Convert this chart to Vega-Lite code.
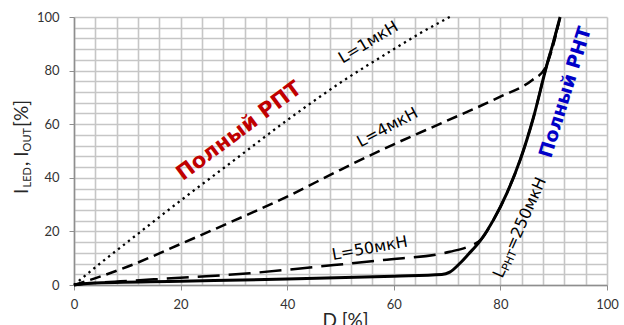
{
  "$schema": "https://vega.github.io/schema/vega-lite/v6.json",
  "width": 533,
  "height": 268,
  "autosize": {"type": "none"},
  "padding": {"left": 74, "top": 17, "right": 17, "bottom": 40},
  "background": "white",
  "config": {"view": {"stroke": null}, "font": "Lato"},
  "datasets": {
    "curves": [
      {"series": "L1", "x": 0, "y": 0}, {"series": "L1", "x": 5, "y": 8.2}, {"series": "L1", "x": 10, "y": 16}, {"series": "L1", "x": 20, "y": 31.5}, {"series": "L1", "x": 30, "y": 46.5}, {"series": "L1", "x": 40, "y": 61.5}, {"series": "L1", "x": 50, "y": 75.5}, {"series": "L1", "x": 60, "y": 88}, {"series": "L1", "x": 65, "y": 94}, {"series": "L1", "x": 70.5, "y": 100},
      {"series": "L4", "x": 0, "y": 0}, {"series": "L4", "x": 5, "y": 3.2}, {"series": "L4", "x": 10, "y": 6.8}, {"series": "L4", "x": 20, "y": 15.3}, {"series": "L4", "x": 30, "y": 24}, {"series": "L4", "x": 40, "y": 33}, {"series": "L4", "x": 50, "y": 43}, {"series": "L4", "x": 60, "y": 52.5}, {"series": "L4", "x": 70, "y": 61.3}, {"series": "L4", "x": 80, "y": 70.3}, {"series": "L4", "x": 86, "y": 76.5}, {"series": "L4", "x": 88.4, "y": 80.9}, {"series": "L4", "x": 89.7, "y": 88}, {"series": "L4", "x": 91.2, "y": 100},
      {"series": "L50", "x": 0, "y": 0}, {"series": "L50", "x": 3, "y": 0.6}, {"series": "L50", "x": 15, "y": 2.1}, {"series": "L50", "x": 33, "y": 4.4}, {"series": "L50", "x": 45.5, "y": 6.8}, {"series": "L50", "x": 58, "y": 9.3}, {"series": "L50", "x": 70.5, "y": 12.4}, {"series": "L50", "x": 74.3, "y": 14.6}, {"series": "L50", "x": 76.4, "y": 17}, {"series": "L50", "x": 78.7, "y": 24.3}, {"series": "L50", "x": 81.2, "y": 34.2}, {"series": "L50", "x": 83.7, "y": 46.6}, {"series": "L50", "x": 86.2, "y": 62.5}, {"series": "L50", "x": 88.7, "y": 82}, {"series": "L50", "x": 90, "y": 91}, {"series": "L50", "x": 91.2, "y": 100},
      {"series": "L250", "x": 0, "y": 0}, {"series": "L250", "x": 3, "y": 0.7}, {"series": "L250", "x": 20, "y": 1.4}, {"series": "L250", "x": 40, "y": 2.2}, {"series": "L250", "x": 60, "y": 3.3}, {"series": "L250", "x": 69, "y": 3.9}, {"series": "L250", "x": 70.5, "y": 4.8}, {"series": "L250", "x": 72.4, "y": 8.1}, {"series": "L250", "x": 74, "y": 11.5}, {"series": "L250", "x": 76.2, "y": 16.5}, {"series": "L250", "x": 78.7, "y": 24.3}, {"series": "L250", "x": 81.2, "y": 34.2}, {"series": "L250", "x": 83.7, "y": 46.6}, {"series": "L250", "x": 86.2, "y": 62.5}, {"series": "L250", "x": 88.7, "y": 82}, {"series": "L250", "x": 90, "y": 91}, {"series": "L250", "x": 91.2, "y": 100}
    ],
    "notes": [
      {"id": "rpt", "x": 31, "y": 57.3, "text": "Полный РПТ"},
      {"id": "rnt", "x": 92.2, "y": 71.9, "text": "Полный РНТ"},
      {"id": "l1", "x": 55.2, "y": 90.5, "text": "L=1мкН"},
      {"id": "l4", "x": 58.8, "y": 58.8, "text": "L=4мкН"},
      {"id": "l50", "x": 55.5, "y": 13.7, "text": "L=50мкН"},
      {"id": "lp1", "x": 79.5, "y": 3, "text": "L"},
      {"id": "lp2", "x": 79.5, "y": 3, "text": "РНТ"},
      {"id": "lp3", "x": 79.5, "y": 3, "text": "=250мкН"},
      {"id": "yt1", "x": -8.6, "y": 34, "text": "I"},
      {"id": "yt2", "x": -8.6, "y": 34, "text": "LED"},
      {"id": "yt3", "x": -8.6, "y": 34, "text": ", I"},
      {"id": "yt4", "x": -8.6, "y": 34, "text": "OUT"},
      {"id": "yt5", "x": -8.6, "y": 34, "text": "[%]"}
    ]
  },
  "encoding": {
    "x": {
      "field": "x", "type": "quantitative",
      "scale": {"domain": [0, 100], "nice": false},
      "axis": {
        "values": [0, 4, 8, 12, 16, 20, 24, 28, 32, 36, 40, 44, 48, 52, 56, 60, 64, 68, 72, 76, 80, 84, 88, 92, 96, 100],
        "labelExpr": "datum.value % 20 === 0 ? datum.label : ''",
        "labelOverlap": false, "labelBound": false, "labelFlush": false,
        "title": "D [%]", "titleX": 271,
        "grid": true, "gridColor": "#c6c6c6", "gridWidth": 1.6,
        "domainColor": "#8e8e8e", "domainWidth": 1.5,
        "tickColor": "#8e8e8e", "tickSize": 5, "tickWidth": 1,
        "tickOpacity": {"condition": {"test": "datum.value % 20 === 0", "value": 1}, "value": 0},
        "labelFont": "Lato", "labelFontSize": 13, "labelColor": "#333333", "labelPadding": 8,
        "titleFont": "Lato", "titleFontSize": 19, "titleFontWeight": "normal", "titleColor": "#262626", "titlePadding": 0
      }
    },
    "y": {
      "field": "y", "type": "quantitative",
      "scale": {"domain": [0, 100], "nice": false},
      "axis": {
        "values": [0, 4, 8, 12, 16, 20, 24, 28, 32, 36, 40, 44, 48, 52, 56, 60, 64, 68, 72, 76, 80, 84, 88, 92, 96, 100],
        "labelExpr": "datum.value % 20 === 0 ? datum.label : ''",
        "labelOverlap": false, "labelBound": false, "labelFlush": false,
        "title": null,
        "grid": true, "gridColor": "#c6c6c6", "gridWidth": 1.6,
        "domainColor": "#8e8e8e", "domainWidth": 1.5,
        "tickColor": "#8e8e8e", "tickSize": 5, "tickWidth": 1,
        "tickOpacity": {"condition": {"test": "datum.value % 20 === 0", "value": 1}, "value": 0},
        "labelFont": "Lato", "labelFontSize": 13, "labelColor": "#333333", "labelPadding": 10
      }
    }
  },
  "layer": [
    {"data": {"name": "curves"}, "transform": [{"filter": "datum.series === 'L1'"}],
     "mark": {"type": "line", "color": "black", "strokeWidth": 2.3, "strokeDash": [2.3, 4], "interpolate": "monotone"}},
    {"data": {"name": "curves"}, "transform": [{"filter": "datum.series === 'L4'"}],
     "mark": {"type": "line", "color": "black", "strokeWidth": 2.5, "strokeDash": [11, 6], "interpolate": "monotone"}},
    {"data": {"name": "curves"}, "transform": [{"filter": "datum.series === 'L50'"}],
     "mark": {"type": "line", "color": "black", "strokeWidth": 2.5, "strokeDash": [22, 9], "interpolate": "monotone"}},
    {"data": {"name": "curves"}, "transform": [{"filter": "datum.series === 'L250'"}],
     "mark": {"type": "line", "color": "black", "strokeWidth": 3, "interpolate": "monotone"}},
    {"data": {"name": "notes"}, "transform": [{"filter": "datum.id === 'rpt'"}],
     "mark": {"type": "text", "font": "DejaVu Sans", "fontWeight": "bold", "fontSize": 21, "color": "#c00000", "angle": 323.2, "align": "center", "baseline": "middle"},
     "encoding": {"text": {"field": "text"}}},
    {"data": {"name": "notes"}, "transform": [{"filter": "datum.id === 'rnt'"}],
     "mark": {"type": "text", "font": "DejaVu Sans", "fontWeight": "bold", "fontSize": 19, "color": "#0000c8", "angle": 287.2, "align": "center", "baseline": "middle"},
     "encoding": {"text": {"field": "text"}}},
    {"data": {"name": "notes"}, "transform": [{"filter": "datum.id === 'l1'"}],
     "mark": {"type": "text", "font": "DejaVu Sans", "fontSize": 16, "color": "black", "angle": 329, "align": "center", "baseline": "middle"},
     "encoding": {"text": {"field": "text"}}},
    {"data": {"name": "notes"}, "transform": [{"filter": "datum.id === 'l4'"}],
     "mark": {"type": "text", "font": "DejaVu Sans", "fontSize": 16, "color": "black", "angle": 332, "align": "center", "baseline": "middle"},
     "encoding": {"text": {"field": "text"}}},
    {"data": {"name": "notes"}, "transform": [{"filter": "datum.id === 'l50'"}],
     "mark": {"type": "text", "font": "DejaVu Sans", "fontSize": 16, "color": "black", "angle": 349.8, "align": "center", "baseline": "middle"},
     "encoding": {"text": {"field": "text"}}},
    {"data": {"name": "notes"}, "transform": [{"filter": "datum.id === 'lp1'"}],
     "mark": {"type": "text", "font": "DejaVu Sans", "fontSize": 16, "color": "black", "angle": 294, "align": "left", "baseline": "middle"},
     "encoding": {"text": {"field": "text"}}},
    {"data": {"name": "notes"}, "transform": [{"filter": "datum.id === 'lp2'"}],
     "mark": {"type": "text", "font": "DejaVu Sans", "fontSize": 11, "color": "black", "angle": 294, "align": "left", "baseline": "middle", "dx": 9, "dy": 4.5},
     "encoding": {"text": {"field": "text"}}},
    {"data": {"name": "notes"}, "transform": [{"filter": "datum.id === 'lp3'"}],
     "mark": {"type": "text", "font": "DejaVu Sans", "fontSize": 16, "color": "black", "angle": 294, "align": "left", "baseline": "middle", "dx": 30.5},
     "encoding": {"text": {"field": "text"}}},
    {"data": {"name": "notes"}, "transform": [{"filter": "datum.id === 'yt1'"}],
     "mark": {"type": "text", "font": "Lato", "fontSize": 19, "color": "#262626", "angle": 270, "align": "left", "baseline": "alphabetic"},
     "encoding": {"text": {"field": "text"}}},
    {"data": {"name": "notes"}, "transform": [{"filter": "datum.id === 'yt2'"}],
     "mark": {"type": "text", "font": "Lato", "fontSize": 11, "color": "#262626", "angle": 270, "align": "left", "baseline": "alphabetic", "dx": 6.5, "dy": 2.5},
     "encoding": {"text": {"field": "text"}}},
    {"data": {"name": "notes"}, "transform": [{"filter": "datum.id === 'yt3'"}],
     "mark": {"type": "text", "font": "Lato", "fontSize": 19, "color": "#262626", "angle": 270, "align": "left", "baseline": "alphabetic", "dx": 28},
     "encoding": {"text": {"field": "text"}}},
    {"data": {"name": "notes"}, "transform": [{"filter": "datum.id === 'yt4'"}],
     "mark": {"type": "text", "font": "Lato", "fontSize": 11, "color": "#262626", "angle": 270, "align": "left", "baseline": "alphabetic", "dx": 42.5, "dy": 2.5},
     "encoding": {"text": {"field": "text"}}},
    {"data": {"name": "notes"}, "transform": [{"filter": "datum.id === 'yt5'"}],
     "mark": {"type": "text", "font": "Lato", "fontSize": 19, "color": "#262626", "angle": 270, "align": "left", "baseline": "alphabetic", "dx": 67},
     "encoding": {"text": {"field": "text"}}}
  ]
}
